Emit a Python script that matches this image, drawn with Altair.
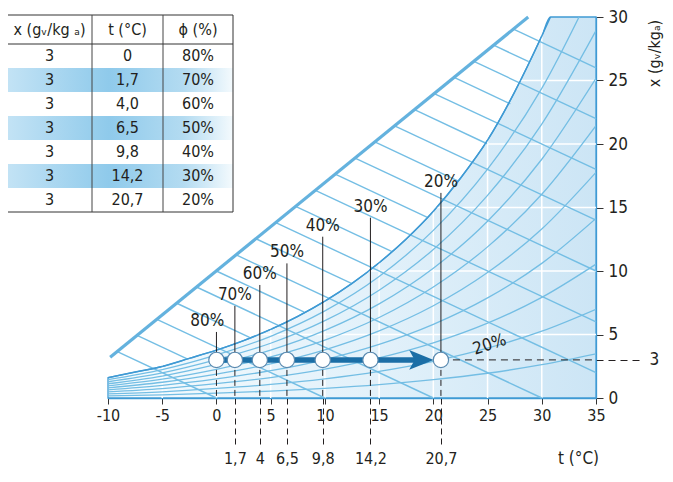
import altair as alt
import pandas as pd

FONT = "Liberation Sans Narrow, DejaVu Sans Condensed, Arial Narrow, sans-serif"
TXT = "#231f20"
BLUE_LINE = "#74bee4"
BLUE_SAT = "#3f9ad4"
BLUE_THICK = "#64b2de"
ARROW = "#1b6ea6"

# ---------------- data ----------------
# saturation curve (phi = 100 %)
sat_t = [-10, -7.5, -5, -2.5, 0, 2.5, 5, 7.5, 10, 12.5, 15, 17.5, 20, 22.5, 25, 27.5, 30, 30.8]
sat_x = [1.6, 2.04, 2.48, 3.12, 3.77, 4.52, 5.4, 6.43, 7.63, 9.02, 10.65, 12.52, 14.7, 17.3, 20.3, 24.1, 28.5, 30.0]

# relative humidity curves 10 % ... 90 %
rh_t = [-10, -5, 0, 5, 10, 15, 20, 25, 30, 35]
rh10 = [0.16, 0.25, 0.38, 0.54, 0.76, 1.05, 1.44, 1.95, 2.62, 3.48]
rh20 = [0.32, 0.49, 0.75, 1.07, 1.51, 2.10, 2.89, 3.92, 5.26, 6.99]
rh30 = [0.48, 0.74, 1.13, 1.61, 2.27, 3.16, 4.34, 5.89, 7.92, 10.54]
rh40 = [0.64, 0.99, 1.50, 2.15, 3.03, 4.22, 5.80, 7.88, 10.60, 14.14]
rh50 = [0.80, 1.24, 1.88, 2.69, 3.79, 5.28, 7.26, 9.88, 13.31, 17.77]
rh60 = [0.96, 1.48, 2.26, 3.23, 4.56, 6.34, 8.74, 11.90, 16.04, 21.45]
rh70 = [1.12, 1.73, 2.64, 3.77, 5.32, 7.41, 10.22, 13.92, 18.80, 25.17]
rh80 = [1.28, 1.98, 3.02, 4.31, 6.09, 8.49, 11.70, 15.96, 21.57, 28.93]
rh90 = [1.44, 2.23, 3.39, 4.86, 6.86, 9.57, 13.20, 18.02, 24.38, 32.74]

# enthalpy lines: start on the thick scale line, end on axis / edge / saturation curve
h_start_t = [-9.14, -7.32, -5.49, -3.66, -1.84, -0.01, 1.82, 3.64, 5.47, 7.30, 9.12,
             10.95, 12.78, 14.60, 16.43, 18.26, 20.08, 21.91, 23.74, 25.56, 27.39]
h_start_x = [3.66, 4.93, 6.20, 7.46, 8.74, 10.0, 11.27, 12.54, 13.81, 15.08, 16.35,
             17.62, 18.89, 20.16, 21.43, 22.70, 23.97, 25.24, 26.5, 27.78, 29.04]
h_end_t = [0, -2.7, 10, 3.05, 20, 8.1, 30, 12.5, 35, 16.15, 35,
           19.5, 35, 22.35, 35, 24.95, 35, 27.1, 35, 28.8, 35]
h_end_x = [0, 3.08, 0, 4.78, 0, 6.76, 0, 9.0, 2.0, 11.54, 6.0,
           14.2, 10.0, 17.06, 14.0, 20.02, 18.0, 23.16, 22.0, 26.48, 26.0]

# thick enthalpy scale line
thick_t = [-9.8, 28.75]
thick_x = [3.2, 30.0]

# the heated air states
state_t = [0, 1.7, 4.0, 6.5, 9.8, 14.2, 20.7]
state_x = [3, 3, 3, 3, 3, 3, 3]
state_phi = ["80%", "70%", "60%", "50%", "40%", "30%", "20%"]
leader_top = [5.2, 7.25, 8.9, 10.6, 12.7, 14.2, 16.15]
label_t = [-0.85, 1.7, 4.0, 6.5, 9.8, 14.2, 20.7]

arrow_t = [0, 18.5]
head_t = [18.9]

grid_t = [-5, 0, 5, 10, 15, 20, 25, 30]
grid_x = [5, 10, 15, 20, 25]

x_ticks = [-10, -5, 0, 5, 10, 15, 20, 25, 30, 35]
y_ticks = [0, 5, 10, 15, 20, 25, 30]

# table
tbl_header = ["x (gᵥ/kg ₐ)", "t (°C)", "ϕ (%)"]
tbl_x = ["3", "3", "3", "3", "3", "3", "3"]
tbl_t = ["0", "1,7", "4,0", "6,5", "9,8", "14,2", "20,7"]
tbl_phi = ["80%", "70%", "60%", "50%", "40%", "30%", "20%"]

# ---------------- layout constants ----------------
col_edges = [0, 85, 156, 226]
header_h = 29
row_h = 24

XS = alt.Scale(domain=[-10, 35], nice=False, zero=False)
YS = alt.Scale(domain=[0, 30], nice=False, zero=False)

# ---------------- frames ----------------
area_df = pd.DataFrame({"t": sat_t + [35], "x": sat_x + [30.0]})
sat_df = pd.DataFrame({"t": sat_t, "x": sat_x})
rh_rows = []
for lvl, arr in zip([10, 20, 30, 40, 50, 60, 70, 80, 90],
                    [rh10, rh20, rh30, rh40, rh50, rh60, rh70, rh80, rh90]):
    for tt, xx in zip(rh_t, arr):
        rh_rows.append({"t": tt, "x": xx, "phi": lvl})
rh_df = pd.DataFrame(rh_rows)
h_df = pd.DataFrame({"t": h_start_t, "x": h_start_x, "t2": h_end_t, "x2": h_end_x})
thick_df = pd.DataFrame({"t": thick_t, "x": thick_x})
st_df = pd.DataFrame({"t": state_t, "x": state_x, "phi": state_phi,
                      "top": leader_top, "lt": label_t})
arrow_df = pd.DataFrame({"t": arrow_t, "x": [3, 3]})
head_df = pd.DataFrame({"t": head_t, "x": [3]})
gv_df = pd.DataFrame({"t": grid_t})
gh_df = pd.DataFrame({"x": grid_x})
hdash_df = pd.DataFrame({"t": [state_t[-1]], "t2": [35], "x": [3]})

x_axis = alt.Axis(values=x_ticks, labelExpr="toString(datum.value)", orient="bottom", grid=False,
                  domainColor=BLUE_SAT, domainWidth=1.3, tickColor="#333", tickSize=6,
                  labelFont=FONT, labelFontSize=16, labelColor=TXT, labelPadding=3,
                  labelFlush=False, labelOverlap=False,
                  title="t (°C)", titleFont=FONT, titleFontSize=17, titleFontWeight="normal",
                  titleColor=TXT, titleX=470, titleY=65, titleAlign="center",
                  titleBaseline="alphabetic")
y_axis = alt.Axis(values=y_ticks, orient="right", grid=False,
                  domainColor=BLUE_SAT, domainWidth=1.3, tickColor="#333", tickSize=7,
                  labelFont=FONT, labelFontSize=17, labelColor=TXT, labelPadding=5,
                  title="x (gᵥ/kgₐ)", titleFont=FONT, titleFontSize=16,
                  titleFontWeight="normal", titleColor=TXT, titleAngle=270,
                  titleX=58, titleY=36, titleAlign="center", titleBaseline="middle")

grad = alt.LinearGradient(gradient="linear",
                          stops=[alt.GradientStop(color="#f5fbfe", offset=0),
                                 alt.GradientStop(color="#e2f1fa", offset=0.55),
                                 alt.GradientStop(color="#cce5f5", offset=1)],
                          x1=0, x2=1, y1=0, y2=0)

area = alt.Chart(area_df).mark_area(interpolate="monotone", color=grad, stroke=BLUE_SAT,
                                    strokeWidth=1.3).encode(
    x=alt.X("t:Q", scale=XS, axis=x_axis), y=alt.Y("x:Q", scale=YS, axis=y_axis))

grid_v = alt.Chart(gv_df).mark_rule(color="white", strokeWidth=1.5).encode(
    x=alt.X("t:Q", scale=XS), y=alt.datum(0), y2=alt.datum(30))
grid_h = alt.Chart(gh_df).mark_rule(color="white", strokeWidth=1.5).encode(
    y=alt.Y("x:Q", scale=YS), x=alt.datum(-10), x2=alt.datum(35))

rh_lines = alt.Chart(rh_df).mark_line(interpolate="monotone", color=BLUE_LINE, strokeWidth=1.3,
                                      clip=True).encode(
    x=alt.X("t:Q", scale=XS), y=alt.Y("x:Q", scale=YS), detail="phi:N")

h_lines = alt.Chart(h_df).mark_rule(color=BLUE_LINE, strokeWidth=1.4).encode(
    x=alt.X("t:Q", scale=XS), y=alt.Y("x:Q", scale=YS), x2="t2:Q", y2="x2:Q")

sat_line = alt.Chart(sat_df).mark_line(interpolate="monotone", color=BLUE_SAT,
                                       strokeWidth=1.5).encode(
    x=alt.X("t:Q", scale=XS), y=alt.Y("x:Q", scale=YS))

thick = alt.Chart(thick_df).mark_line(color=BLUE_THICK, strokeWidth=3.2).encode(
    x=alt.X("t:Q", scale=XS), y=alt.Y("x:Q", scale=YS))

leaders = alt.Chart(st_df).mark_rule(color=TXT, strokeWidth=1).encode(
    x=alt.X("t:Q", scale=XS), y=alt.Y("x:Q", scale=YS), y2="top:Q")

dashes = alt.Chart(st_df).mark_rule(color=TXT, strokeWidth=1, strokeDash=[6, 4]).encode(
    x=alt.X("t:Q", scale=XS), y=alt.Y("x:Q", scale=YS), y2=alt.datum(0))

hdash = alt.Chart(hdash_df).mark_rule(color=TXT, strokeWidth=1, strokeDash=[7, 5]).encode(
    x=alt.X("t:Q", scale=XS), x2="t2:Q", y=alt.Y("x:Q", scale=YS))

arrow_line = alt.Chart(arrow_df).mark_line(color=ARROW, strokeWidth=5.5).encode(
    x=alt.X("t:Q", scale=XS), y=alt.Y("x:Q", scale=YS))

arrow_head = alt.Chart(head_df).mark_point(shape="M-1,-0.8L1,0L-1,0.8L-0.55,0Z", filled=True,
                                           color=ARROW, size=600, opacity=1).encode(
    x=alt.X("t:Q", scale=XS), y=alt.Y("x:Q", scale=YS))

circles = alt.Chart(st_df).mark_point(shape="circle", filled=True, fill="white",
                                      stroke="#5a8ab0", strokeWidth=1.2, size=235,
                                      opacity=1).encode(
    x=alt.X("t:Q", scale=XS), y=alt.Y("x:Q", scale=YS))

pct = alt.Chart(st_df).mark_text(font=FONT, fontSize=17, color=TXT, dy=-11).encode(
    x=alt.X("lt:Q", scale=XS), y=alt.Y("top:Q", scale=YS), text="phi:N")

lab20 = alt.Chart(pd.DataFrame({"t": [25.2], "x": [4.2], "s": ["20%"]})).mark_text(
    font=FONT, fontSize=17, color=TXT, angle=342).encode(
    x=alt.X("t:Q", scale=XS), y=alt.Y("x:Q", scale=YS), text="s:N")

main = alt.layer(area, grid_v, grid_h, rh_lines, h_lines, sat_line, thick, leaders, dashes,
                 hdash, arrow_line, arrow_head, circles, pct, lab20)

# second bottom axis with the dashed state temperatures
ax2x = alt.Chart(pd.DataFrame({"t": state_t[1:]})).mark_point(opacity=0).encode(
    x=alt.X("t:Q", scale=XS, axis=alt.Axis(
        values=state_t[1:], orient="bottom", domain=False, grid=False, tickColor=TXT,
        tickSize=48, tickDash=[6, 4], tickWidth=1,
        labelExpr="replace(toString(datum.value), '.', ',')",
        labelFont=FONT, labelFontSize=16, labelColor=TXT, labelPadding=4,
        labelFlush=False, labelOverlap=False, title=None)))

# second right axis for x = 3
ax2y = alt.Chart(pd.DataFrame({"x": [3]})).mark_point(opacity=0).encode(
    y=alt.Y("x:Q", scale=YS, axis=alt.Axis(
        values=[3], orient="right", domain=False, grid=False, tickColor=TXT,
        tickSize=48, tickDash=[7, 5], tickWidth=1,
        labelFont=FONT, labelFontSize=17, labelColor=TXT, labelPadding=5, title=None)))

# ---------------- table ----------------
TX = alt.Scale(domain=[0, 226], range=[-101, 125], nice=False, zero=False)
TY = alt.Scale(domain=[0, 197], range=[-2, 195], nice=False, zero=False)
col_c = [(col_edges[i] + col_edges[i + 1]) / 2 for i in range(3)]
txt_rows = []
for j, h in enumerate(tbl_header):
    txt_rows.append({"cx": col_c[j], "cy": header_h / 2, "txt": h})
for i in range(len(tbl_t)):
    for j, v in enumerate([tbl_x[i], tbl_t[i], tbl_phi[i]]):
        txt_rows.append({"cx": col_c[j], "cy": header_h + row_h * (i + 0.5), "txt": v})
txt_df = pd.DataFrame(txt_rows)
box_df = pd.DataFrame({"a": [col_edges[0]], "b": [col_edges[-1]], "c": [0],
                       "d": [header_h + row_h * len(tbl_t)]})
stripe_df = pd.DataFrame({"a": [col_edges[0]] * 3, "b": [col_edges[-1]] * 3,
                          "c": [header_h + row_h * i for i in (1, 3, 5)],
                          "d": [header_h + row_h * (i + 1) for i in (1, 3, 5)]})
div_df = pd.DataFrame({"a": col_edges[1:3], "c": [0, 0],
                       "d": [header_h + row_h * len(tbl_t)] * 2})
hline_df = pd.DataFrame({"a": [col_edges[0]], "b": [col_edges[-1]], "c": [header_h]})

sgrad = alt.LinearGradient(gradient="linear",
                           stops=[alt.GradientStop(color="#c3e3f5", offset=0),
                                  alt.GradientStop(color="#8fcaeb", offset=0.45),
                                  alt.GradientStop(color="#b3dbf1", offset=0.78),
                                  alt.GradientStop(color="#f4fafd", offset=1)],
                           x1=0, x2=1, y1=0, y2=0)

t_bg = alt.Chart(box_df).mark_rect(color="white").encode(
    x=alt.X("a:Q", scale=TX, axis=None), x2="b:Q", y=alt.Y("c:Q", scale=TY, axis=None), y2="d:Q")
t_stripes = alt.Chart(stripe_df).mark_rect(color=sgrad).encode(
    x=alt.X("a:Q", scale=TX, axis=None), x2="b:Q", y=alt.Y("c:Q", scale=TY, axis=None), y2="d:Q")
t_box = alt.Chart(box_df).mark_rect(fillOpacity=0, stroke="#333", strokeWidth=1).encode(
    x=alt.X("a:Q", scale=TX, axis=None), x2="b:Q", y=alt.Y("c:Q", scale=TY, axis=None), y2="d:Q")
t_div = alt.Chart(div_df).mark_rule(color="#444", strokeWidth=1).encode(
    x=alt.X("a:Q", scale=TX, axis=None), y=alt.Y("c:Q", scale=TY, axis=None), y2="d:Q")
t_hline = alt.Chart(hline_df).mark_rule(color="#333", strokeWidth=1).encode(
    x=alt.X("a:Q", scale=TX, axis=None), x2="b:Q", y=alt.Y("c:Q", scale=TY, axis=None))
t_text = alt.Chart(txt_df).mark_text(font=FONT, fontSize=16, color=TXT, baseline="middle").encode(
    x=alt.X("cx:Q", scale=TX, axis=None), y=alt.Y("cy:Q", scale=TY, axis=None), text="txt:N")

table = alt.layer(t_bg, t_stripes, t_box, t_div, t_hline, t_text)

chart = alt.layer(main, ax2x, ax2y, table).resolve_scale(
    x="independent", y="independent").properties(
    width=488, height=381,
    autosize=alt.AutoSizeParams(type="none"),
    padding={"left": 100, "top": 9, "right": 69, "bottom": 72},
).configure_view(strokeWidth=0)

chart.save("out.html", embed_options={"renderer": "svg", "actions": False})
